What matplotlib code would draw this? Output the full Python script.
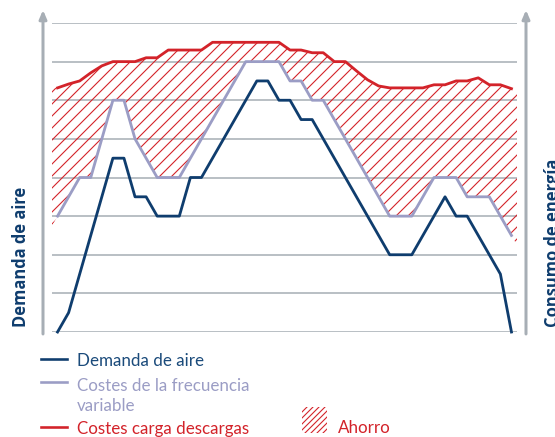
import matplotlib
matplotlib.use('Agg')
import matplotlib.pyplot as plt
import numpy as np
from matplotlib.lines import Line2D
from matplotlib.patches import Rectangle, FancyArrowPatch

# ---- data (values in grid units, 0..8) ----
demanda_aire = [0, 0.5, 1.5, 2.5, 3.5, 4.5, 4.5, 3.5, 3.5, 3.0, 3.0, 3.0, 4.0, 4.0,
                4.5, 5.0, 5.5, 6.0, 6.5, 6.5, 6.0, 6.0, 5.5, 5.5, 5.0, 4.5, 4.0, 3.5,
                3.0, 2.5, 2.0, 2.0, 2.0, 2.5, 3.0, 3.5, 3.0, 3.0, 2.5, 2.0, 1.5, 0]
costes_frecuencia = [3.0, 3.5, 4.0, 4.0, 5.0, 6.0, 6.0, 5.0, 4.5, 4.0, 4.0, 4.0, 4.5, 5.0,
                     5.5, 6.0, 6.5, 7.0, 7.0, 7.0, 7.0, 6.5, 6.5, 6.0, 6.0, 5.5, 5.0, 4.5,
                     4.0, 3.5, 3.0, 3.0, 3.0, 3.5, 4.0, 4.0, 4.0, 3.5, 3.5, 3.5, 3.0, 2.5]
costes_carga = [6.32, 6.42, 6.5, 6.71, 6.89, 7.0, 7.0, 7.0, 7.1, 7.1, 7.3, 7.3, 7.3, 7.3,
                7.5, 7.5, 7.5, 7.5, 7.5, 7.5, 7.5, 7.3, 7.3, 7.23, 7.23, 7.0, 7.0, 6.76,
                6.53, 6.37, 6.32, 6.32, 6.32, 6.32, 6.4, 6.4, 6.5, 6.5, 6.58, 6.4, 6.4, 6.3]
grid_levels = list(range(0, 9))

label_y_left = 'Demanda de aire'
label_y_right = 'Consumo de energía'
legend_labels = ['Demanda de aire', 'Costes de la frecuencia\nvariable',
                 'Costes carga descargas', 'Ahorro']

NAVY = '#0f3d6e'
NAVY_TXT = '#1b4b7b'
LAV = '#9b9dc5'
RED = '#d3232a'
GRID = '#b3b9bf'
AXISC = '#a7aeb5'
FONT = 'Lato'
FONT_B = 'Open Sans'

plt.rcParams['hatch.linewidth'] = 1.1

DPI = 72
W, H = 555, 437
fig = plt.figure(figsize=(W / DPI, H / DPI), dpi=DPI)


def fx(px):
    return px / W


def fy(py):
    return 1 - py / H


ax = fig.add_axes([fx(52), fy(332), (517 - 52) / W, (332 - 23) / H])
x = np.arange(len(demanda_aire))
ax.set_xlim(-0.5, len(x) - 0.5)
ax.set_ylim(0, 8)
ax.axis('off')

for v in grid_levels:
    ax.axhline(v, color=GRID, lw=1.8, zorder=1)

lav = np.array(costes_frecuencia, dtype=float)
red = np.array(costes_carga, dtype=float)
xf = np.concatenate([[-0.5], x, [x[-1] + 0.5]])
lo = np.concatenate([[lav[0] - 0.5 * (lav[1] - lav[0])], lav, [lav[-1] + 0.5 * (lav[-1] - lav[-2])]])
hi = np.concatenate([[red[0]], red, [red[-1]]])
ax.fill_between(xf, lo, hi, facecolor='none', edgecolor=RED, hatch='//', linewidth=0, zorder=2)

ax.plot(x, lav, color=LAV, lw=2.8, zorder=3, clip_on=False)
ax.plot(x, demanda_aire, color=NAVY, lw=2.8, zorder=4, clip_on=False)
ax.plot(x, red, color=RED, lw=2.8, zorder=5, clip_on=False)

# axis arrows
for px in (43, 526):
    arr = FancyArrowPatch((fx(px), fy(334)), (fx(px), fy(10)), transform=fig.transFigure,
                          arrowstyle='-|>,head_length=0.7,head_width=0.3', mutation_scale=10,
                          lw=3, color=AXISC, shrinkA=0, shrinkB=0)
    fig.add_artist(arr)

fig.text(fx(26), fy(327), label_y_left, rotation=90, rotation_mode='anchor', ha='left',
         va='baseline', fontsize=16.5, fontweight='bold', color=NAVY, family=FONT_B)
fig.text(fx(558), fy(327), label_y_right, rotation=90, rotation_mode='anchor', ha='left',
         va='baseline', fontsize=16.5, fontweight='bold', color=NAVY, family=FONT_B)

# legend
leg_items = [(359, 366, NAVY, NAVY_TXT, legend_labels[0]),
             (382, 411, LAV, LAV, legend_labels[1]),
             (427, 434, RED, RED, legend_labels[2])]
for ly, by, lc, tc, lab in leg_items:
    fig.add_artist(Line2D([fx(41), fx(67)], [fy(ly), fy(ly)], transform=fig.transFigure,
                          color=lc, lw=2.6))
    fig.text(fx(77), fy(by), lab, va='baseline', ha='left', fontsize=17, color=tc,
             family=FONT, linespacing=1.28)

fig.add_artist(Rectangle((fx(302), fy(433)), 25 / W, 26 / H, transform=fig.transFigure,
                         facecolor='none', edgecolor=RED, hatch='////', lw=0))
fig.text(fx(338), fy(433), legend_labels[3], va='baseline', ha='left', fontsize=17,
         color=RED, family=FONT)

fig.savefig('out.png', dpi=DPI)
